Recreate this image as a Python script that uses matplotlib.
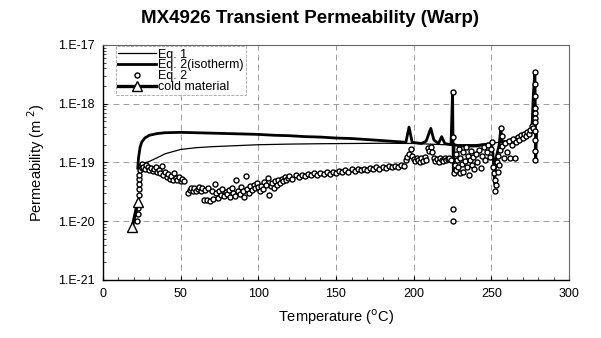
import numpy as np
import matplotlib
matplotlib.use("Agg")
import matplotlib.pyplot as plt
from matplotlib.ticker import FixedLocator, FixedFormatter, MultipleLocator, LogLocator, NullFormatter

plt.rcParams['font.family'] = ['Liberation Sans', 'DejaVu Sans']

# permeabilities below are in units of 1e-20 m^2
E20 = 1e-20

# Eq. 1 (thin line)
t_eq1 = [23, 24, 25, 27, 30, 35, 40, 50, 60, 70, 80, 100, 120, 140, 160, 180, 200, 220, 240, 255, 265, 272, 276]
k_eq1 = [7, 8.5, 9.2, 9.8, 10.4, 12, 14, 16.6, 17.8, 18.5, 19, 20, 20.5, 20.8, 21, 21.2, 21, 20, 20, 22, 25, 28, 31]

# Eq. 2, isothermal (thick line)
t_iso = [22.5, 23, 24, 25, 27, 30, 35, 40, 50, 60, 70, 80, 90, 100, 110, 120, 130, 140, 150, 160, 170,
         180, 190, 195, 197, 199, 205, 208, 211, 213, 216, 218, 220, 224, 225, 225.5, 226, 230, 235, 240,
         245, 250, 251, 252, 253, 255, 256, 257, 260, 265, 270, 274, 276, 277, 278, 278.5, 279]
k_iso = [8, 12, 18, 22, 26, 29, 31, 32, 32.5, 32, 31.5, 31, 30.5, 30, 29, 28.5, 27.5, 27, 26, 25.5, 24.5,
         23.5, 22.5, 22, 40, 22, 21, 23, 38, 24, 21, 27.5, 21, 20, 160, 6.7, 20, 19, 19, 19,
         20, 21, 14, 4.4, 12, 20, 38, 22, 23, 26, 28, 31, 34, 150, 350, 11, 30]

# Eq. 2 (open circles)
t_eq2 = [22, 22.5, 22.5, 23, 23, 23, 23.5, 23.5, 24, 24.5, 25, 25.5, 26, 27, 28, 29, 30, 31, 32, 33,
         34, 35, 36, 37, 38, 39, 40, 41, 42, 43, 44, 45, 46, 47, 48, 49, 50, 51, 52, 55,
         56, 57, 58, 59, 60, 61, 62, 63, 64, 65, 66, 67, 68, 69, 70, 71, 72, 73, 74, 75,
         76, 77, 78, 79, 80, 81, 82, 83, 84, 85, 86, 87, 88, 89, 90, 91, 92, 93, 94, 95,
         96, 97, 98, 99, 100, 101, 102, 103, 104, 105, 106, 107, 108, 109, 110, 111, 112, 113, 114, 115,
         116, 117, 118, 119, 120, 122, 124, 126, 128, 130, 132, 134, 136, 138, 140, 142, 144, 146, 148, 150,
         152, 154, 156, 158, 160, 162, 164, 166, 168, 170, 172, 174, 176, 178, 180, 182, 184, 186, 188, 190,
         192, 194, 195, 196, 197, 198, 199, 200, 201, 202, 203, 204, 205, 206, 207, 208, 209, 210, 211, 212,
         213, 214, 215, 216, 217, 218, 219, 220, 221, 222, 223, 224, 225, 225, 225, 225, 226, 226.5, 227, 227.5,
         228, 228.5, 229, 229.5, 230, 231, 231.5, 232, 233, 233.5, 234, 235, 235.5, 236, 237, 237.5, 238, 239, 240, 241,
         242, 243, 244, 245, 246, 247, 248, 249, 250, 250.5, 251, 251.5, 252, 252.5, 253, 253.5, 254, 254.5, 255, 255.5,
         256, 256.5, 257, 258, 259, 260, 261, 262, 263, 264, 265, 266, 267, 268, 269, 270, 271, 272, 273, 274,
         275, 276, 277, 278, 278, 278, 278, 278, 278, 278, 278, 278, 278, 278]
k_eq2 = [1.0, 1.3, 1.7, 2.8, 3.5, 4.3, 5.2, 6.2, 7.5, 8.8, 9.5, 8.0, 8.5, 7.8, 9.0, 8.2, 7.5, 8.0, 7.2, 7.7,
         8.4, 6.8, 7.4, 6.5, 8.8, 6.2, 7.0, 5.6, 6.4, 5.2, 5.9, 5.0, 6.6, 5.4, 5.0, 5.6, 4.8, 5.2, 4.9, 3.0,
         3.4, 3.6, 3.2, 3.7, 3.3, 3.5, 3.8, 3.2, 3.6, 2.3, 3.4, 2.3, 3.7, 2.2, 3.3, 2.4, 4.3, 3.0, 2.5, 3.2,
         2.8, 3.5, 2.7, 3.1, 2.9, 3.4, 2.6, 3.6, 3.0, 2.7, 5.1, 3.2, 2.9, 3.8, 3.3, 2.6, 5.8, 3.5, 3.0, 3.9,
         3.4, 4.2, 3.6, 4.4, 3.8, 3.2, 4.0, 3.5, 4.6, 4.2, 5.5, 2.8, 3.9, 4.4, 3.6, 4.8, 4.2, 5.0, 4.5, 5.3,
         4.8, 5.6, 5.0, 5.4, 5.8, 5.3, 6.0, 5.6, 6.2, 5.8, 6.3, 6.0, 6.5, 6.1, 6.7, 6.3, 6.8, 6.4, 7.0, 6.6,
         7.2, 6.8, 7.4, 7.0, 7.6, 7.2, 7.8, 7.3, 7.7, 7.4, 8.0, 7.6, 8.2, 7.8, 8.4, 8.0, 8.6, 8.2, 8.8, 8.4,
         9.0, 8.6, 11.0, 12.5, 14.0, 17.0, 13.0, 11.5, 10.5, 12.0, 11.0, 10.2, 11.8, 10.6, 12.2, 11.0, 17.5, 15.5, 18.0, 15.0,
         12.0, 10.5, 11.5, 10.2, 12.0, 11.0, 10.6, 11.8, 10.8, 11.4, 12.0, 11.0, 160, 27.5, 1.6, 1.0, 6.7, 9.0, 7.5, 14.0,
         11.0, 8.2, 17.0, 6.5, 12.0, 9.5, 15.0, 7.0, 10.5, 18.0, 8.5, 13.0, 6.2, 11.0, 15.5, 9.0, 12.5, 7.6, 14.0, 10.0,
         16.5, 8.0, 13.0, 18.5, 11.0, 15.0, 20.0, 12.5, 17.0, 22.0, 8.5, 6.5, 5.0, 3.2, 4.2, 10.0, 7.0, 13.0, 9.0, 16.0,
         39.0, 28.0, 19.0, 12.0, 21.0, 15.0, 23.0, 12.0, 20.0, 25.0, 12.0, 22.0, 27.0, 24.0, 29.0, 26.0, 31.0, 28.0, 33.0, 30.0,
         36.0, 41.0, 38.0, 350, 220, 137, 86, 70, 58, 48, 34, 24.5, 15.5, 11.2]

# cold material (thick line with triangles)
t_cold = [19, 22.5]
k_cold = [0.8, 2.1]

x_ticks = [0, 50, 100, 150, 200, 250, 300]
y_ticks = [1e-21, 1e-20, 1e-19, 1e-18, 1e-17]
y_tick_labels = ["1.E-21", "1.E-20", "1.E-19", "1.E-18", "1.E-17"]

fig = plt.figure(figsize=(6.01, 3.38), dpi=100)
ax = fig.add_axes([0.171, 0.172, 0.776, 0.695])

ax.plot(t_eq1, np.array(k_eq1) * E20, color="black", lw=0.9, label="Eq. 1", zorder=3)
ax.plot(t_iso, np.array(k_iso) * E20, color="black", lw=2.0, label="Eq. 2(isotherm)", zorder=3)
ax.plot(t_eq2, np.array(k_eq2) * E20, ls="none", marker="o", ms=3.6, mfc="white", mec="black",
        mew=1.0, label="Eq. 2", zorder=4)
ax.plot(t_cold, np.array(k_cold) * E20, color="black", lw=2.4, marker="^", ms=6.5, mfc="white",
        mec="black", mew=1.0, label="cold material", zorder=5)

ax.set_yscale("log")
ax.set_xlim(0, 300)
ax.set_ylim(1e-21, 1e-17)
ax.xaxis.set_major_locator(FixedLocator(x_ticks))
ax.xaxis.set_minor_locator(MultipleLocator(10))
ax.yaxis.set_major_locator(FixedLocator(y_ticks))
ax.yaxis.set_major_formatter(FixedFormatter(y_tick_labels))
ax.yaxis.set_minor_locator(LogLocator(base=10, subs=np.arange(2, 10)))
ax.yaxis.set_minor_formatter(NullFormatter())
ax.tick_params(axis="both", which="major", labelsize=9, length=3, width=0.8, direction="in", pad=6)
ax.tick_params(axis="both", which="minor", length=2, width=0.5, direction="in")

ax.grid(True, which="major", color="0.55", lw=0.6, ls=(0, (7, 5)))
for side in ["top", "right"]:
    ax.spines[side].set_color("0.4")
    ax.spines[side].set_linewidth(0.8)
for side in ["left", "bottom"]:
    ax.spines[side].set_linewidth(1.0)

ax.set_xlabel("Temperature ($^{\\mathrm{o}}$C)", fontsize=10.5, labelpad=5)
ax.set_ylabel("Permeability (m $^2$)", fontsize=10.5, labelpad=8)
fig.suptitle("MX4926 Transient Permeability (Warp)", fontsize=13.5, fontweight="bold",
             x=0.515, y=0.97)

leg = ax.legend(loc="upper left", bbox_to_anchor=(0.025, 1.0), fontsize=9, frameon=True,
                borderpad=0.2, labelspacing=-0.1, handlelength=3.0, handletextpad=0.15,
                borderaxespad=0.1, fancybox=False)
leg.get_frame().set_edgecolor("0.55")
leg.get_frame().set_linestyle("--")
leg.get_frame().set_linewidth(0.6)

fig.savefig("out.png", dpi=100)
